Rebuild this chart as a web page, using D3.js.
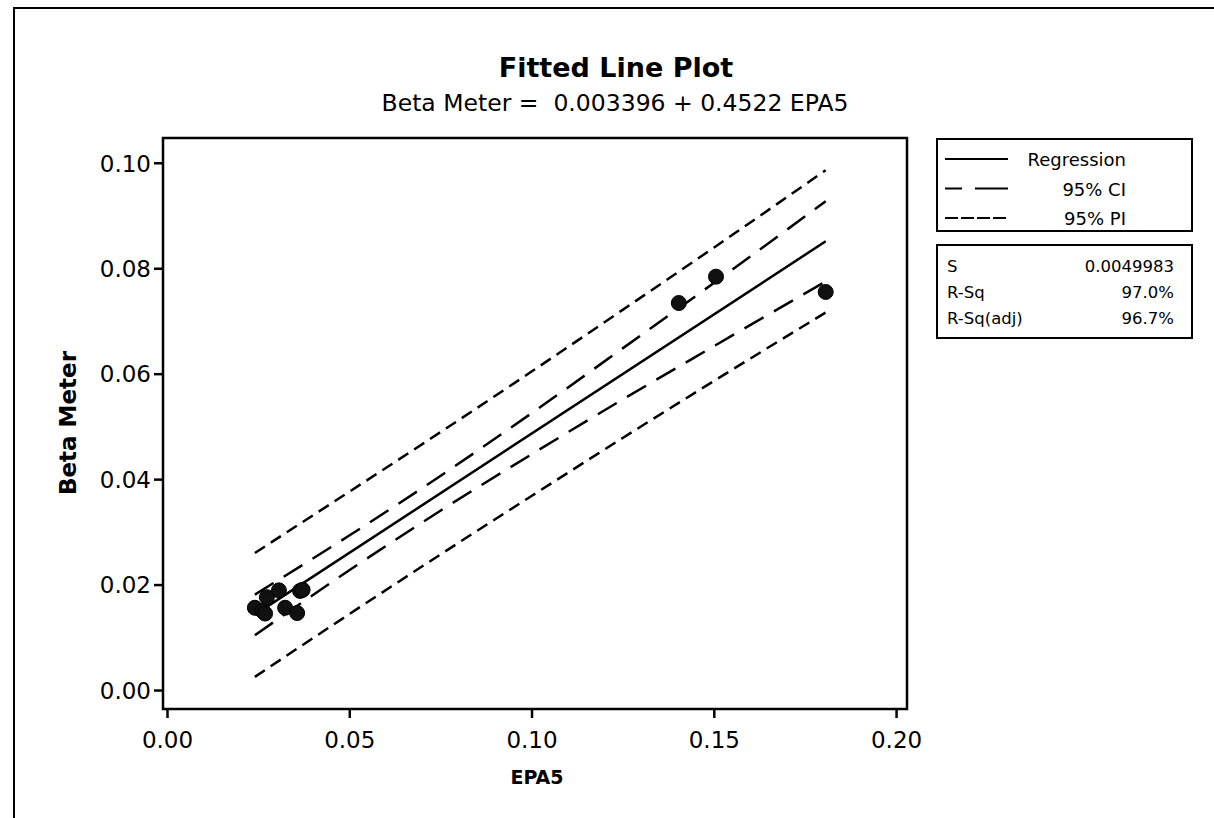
<!DOCTYPE html>
<html lang="en">
<head>
<meta charset="UTF-8">
<title>Fitted Line Plot</title>
<script src="https://cdn.jsdelivr.net/npm/d3@7/dist/d3.min.js"></script>
<style>
body{margin:0;background:#fff;}
text{font-family:"DejaVu Sans",Verdana,sans-serif;fill:#000;}
</style>
</head>
<body>
<script type="text/javascript">
// data
var epa5  = [0.0241,0.0262,0.0269,0.0274,0.0307,0.0324,0.0357,0.0365,0.0372,0.1404,0.1506,0.1807];
var beta  = [0.0156,0.0150,0.0145,0.0176,0.0189,0.0156,0.0146,0.0188,0.0190,0.0734,0.0784,0.0755];
// bands, read at a few x positions
var bandX = [0.0241,0.05,0.075,0.10,0.125,0.15,0.1807];
var ciUp  = [0.0181,0.0293,0.0406,0.0525,0.0648,0.0772,0.0927];
var ciLo  = [0.0104,0.0227,0.0340,0.0447,0.0551,0.0652,0.0775];
var piUp  = [0.0260,0.0376,0.0489,0.0604,0.0721,0.0839,0.0986];
var piLo  = [0.0025,0.0144,0.0257,0.0368,0.0478,0.0586,0.0716];
var b0 = 0.003396, b1 = 0.4522;
var xTicks = [0,0.05,0.10,0.15,0.20];
var yTicks = [0,0.02,0.04,0.06,0.08,0.10];
var statNames = ["S","R-Sq","R-Sq(adj)"];
var statVals  = ["0.0049983","97.0%","96.7%"];
var legendNames = ["Regression","95% CI","95% PI"];

var width = 1214, height = 818;
var svg = d3.select("body").append("svg").attr("width",width).attr("height",height);

// outer frame
svg.append("path").attr("d","M14,818V8H1214").attr("fill","none").attr("stroke","#000").attr("stroke-width",2);

var pLeft = 163, pRight = 907, pTop = 138, pBottom = 709;
var x = d3.scaleLinear().domain([-0.0011,0.2030]).range([pLeft,pRight]);
var y = d3.scaleLinear().domain([-0.0036,0.1047]).range([pBottom,pTop]);

// axes
var xAxis = svg.append("g").attr("transform","translate(0,"+pBottom+")")
	.call(d3.axisBottom(x).tickValues(xTicks).tickFormat(d3.format(".2f")).tickSize(9).tickSizeOuter(0));
var yAxis = svg.append("g").attr("transform","translate("+pLeft+",0)")
	.call(d3.axisLeft(y).tickValues(yTicks).tickFormat(d3.format(".2f")).tickSize(9).tickSizeOuter(0));
[xAxis,yAxis].forEach(function(g){
	g.select(".domain").remove();
	g.selectAll("line").attr("stroke","#000").attr("stroke-width",2.5);
	g.selectAll("text").style("font-size","23px").style("font-family","DejaVu Sans");
});
xAxis.selectAll("text").attr("y",0).attr("dy",39);
yAxis.selectAll("text").attr("x",-12).attr("dy","0.36em");

// plot frame
svg.append("rect").attr("x",pLeft).attr("y",pTop).attr("width",pRight-pLeft).attr("height",pBottom-pTop)
	.attr("fill","none").attr("stroke","#000").attr("stroke-width",2.5);

// bands
var band = function(vals){
	return d3.line().curve(d3.curveMonotoneX).x(function(d,i){return x(bandX[i]);}).y(function(d){return y(d);})(vals);
};
[piUp,piLo].forEach(function(v){
	svg.append("path").attr("d",band(v)).attr("fill","none").attr("stroke","#000").attr("stroke-width",2.5).attr("stroke-dasharray","12,7");
});
[ciUp,ciLo].forEach(function(v){
	svg.append("path").attr("d",band(v)).attr("fill","none").attr("stroke","#000").attr("stroke-width",2.5).attr("stroke-dasharray","22,12");
});
// regression
var xmin = d3.min(epa5), xmax = d3.max(epa5);
svg.append("line").attr("x1",x(xmin)).attr("y1",y(b0+b1*xmin)).attr("x2",x(xmax)).attr("y2",y(b0+b1*xmax))
	.attr("stroke","#000").attr("stroke-width",2.5);

// points
svg.selectAll(".pt").data(epa5).enter().append("circle").attr("class","pt")
	.attr("cx",function(d){return x(d);}).attr("cy",function(d,i){return y(beta[i]);})
	.attr("r",7.5).attr("fill","#111").attr("stroke","#000");

// titles
svg.append("text").attr("x",616).attr("y",77).attr("text-anchor","middle")
	.style("font-size","27px").style("font-weight","bold").text("Fitted Line Plot");
svg.append("text").attr("x",615).attr("y",111).attr("text-anchor","middle")
	.style("font-size","23.5px").attr("xml:space","preserve").text("Beta Meter =  0.003396 + 0.4522 EPA5");
svg.append("text").attr("x",537).attr("y",784).attr("text-anchor","middle")
	.style("font-size","19px").style("font-weight","bold").text("EPA5");
svg.append("text").attr("transform","translate(76,423) rotate(-90)").attr("text-anchor","middle")
	.style("font-size","23px").style("font-weight","bold").text("Beta Meter");

// legend
svg.append("rect").attr("x",937).attr("y",139).attr("width",255).attr("height",92)
	.attr("fill","#fff").attr("stroke","#000").attr("stroke-width",2);
var dashes = [null,"17,13,23,0","13,3"];
legendNames.forEach(function(n,i){
	var ly = 159 + i*29.5;
	svg.append("line").attr("x1",945).attr("x2",1008).attr("y1",ly).attr("y2",ly)
		.attr("stroke","#000").attr("stroke-width",2).attr("stroke-dasharray",dashes[i]);
	svg.append("text").attr("x",1126).attr("y",ly+7).attr("text-anchor","end")
		.style("font-size","18px").text(n);
});
svg.append("rect").attr("x",937).attr("y",245).attr("width",255).attr("height",93)
	.attr("fill","#fff").attr("stroke","#000").attr("stroke-width",2);
statNames.forEach(function(n,i){
	var ly = 272 + i*26;
	svg.append("text").attr("x",947).attr("y",ly).style("font-size","16.5px").text(n);
	svg.append("text").attr("x",1174).attr("y",ly).attr("text-anchor","end").style("font-size","16.5px").text(statVals[i]);
});
</script>
</body>
</html>
